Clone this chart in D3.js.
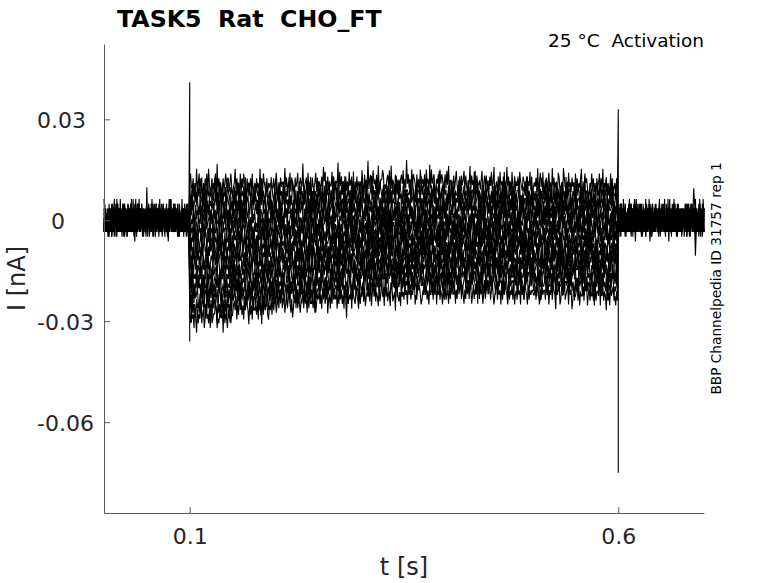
<!DOCTYPE html>
<html>
<head>
<meta charset="utf-8">
<script src="https://cdn.jsdelivr.net/npm/d3@7"></script>
<style>
  body { margin: 0; background: #fff; }
  text { font-family: "DejaVu Sans", sans-serif; }
</style>
</head>
<body>
<div id="wrapper"></div>
<script>
// activation protocol: one current trace per voltage step
const stepVoltages = [-80, -70, -60, -50, -40, -30, -20, -10, 0, 10, 20, 30, 40, 50, 60];
const stepStart = 0.1;
const stepEnd = 0.6;
const recordEnd = 0.7;
const sampleStep = 0.001;

// mean current (nA) of each trace, read per 50 ms segment of the step
const segmentTimes = [0.1, 0.15, 0.2, 0.25, 0.3, 0.35, 0.4, 0.45, 0.5, 0.55];
const stepLevels = [
  [-0.0285, -0.0260, -0.0240, -0.0228, -0.0220, -0.0215, -0.0213, -0.0215, -0.0215, -0.0218],
  [-0.0255, -0.0232, -0.0212, -0.0200, -0.0192, -0.0187, -0.0185, -0.0187, -0.0189, -0.0190],
  [-0.0225, -0.0204, -0.0188, -0.0175, -0.0167, -0.0162, -0.0160, -0.0162, -0.0163, -0.0164],
  [-0.0195, -0.0178, -0.0162, -0.0150, -0.0143, -0.0138, -0.0136, -0.0138, -0.0140, -0.0140],
  [-0.0168, -0.0152, -0.0140, -0.0128, -0.0122, -0.0118, -0.0116, -0.0117, -0.0118, -0.0118],
  [-0.0140, -0.0128, -0.0116, -0.0106, -0.0100, -0.0096, -0.0094, -0.0095, -0.0096, -0.0096],
  [-0.0112, -0.0102, -0.0092, -0.0084, -0.0078, -0.0074, -0.0072, -0.0073, -0.0074, -0.0074],
  [-0.0085, -0.0077, -0.0069, -0.0062, -0.0057, -0.0053, -0.0051, -0.0052, -0.0052, -0.0052],
  [-0.0058, -0.0052, -0.0046, -0.0040, -0.0035, -0.0032, -0.0030, -0.0030, -0.0030, -0.0030],
  [-0.0030, -0.0026, -0.0022, -0.0018, -0.0014, -0.0011, -0.0009, -0.0009, -0.0008, -0.0008],
  [-0.0004, -0.0001, 0.0002, 0.0005, 0.0008, 0.0011, 0.0013, 0.0013, 0.0014, 0.0014],
  [0.0024, 0.0026, 0.0028, 0.0031, 0.0033, 0.0035, 0.0036, 0.0036, 0.0036, 0.0036],
  [0.0050, 0.0052, 0.0054, 0.0056, 0.0058, 0.0059, 0.0059, 0.0058, 0.0058, 0.0058],
  [0.0078, 0.0079, 0.0080, 0.0082, 0.0083, 0.0083, 0.0082, 0.0081, 0.0080, 0.0080],
  [0.0104, 0.0104, 0.0106, 0.0109, 0.0114, 0.0116, 0.0112, 0.0109, 0.0106, 0.0104],
];

// recording jitter, one digit per sample (4.5 = no deviation), in steps of noiseUnit nA
const noiseUnit = 0.0014;
const noiseDigits =
  "54463574253645538462547365416457236549345627451364" +
  "45736254463857246354472635549274635416352745634253" +
  "63545274163549356247453628345576243564718354264535" +
  "35647253946352746541635274453627451837456325463746" +
  "52463748355246357425136457364254836452736445357246" +
  "46352647358145263745462538463527406354627543654263" +
  "54736245463825746354263574528463542763451864352745" +
  "36452746354682437564235474635264573648254635427363" +
  "45263574462538457364253647385246354729364524635746" +
  "63574245836452736475426354637245364528463754263545";
const noiseStarts = [0, 37, 81, 124, 163, 208, 247, 289, 331, 372, 418, 459, 22, 146, 305];

// capacitive transients at step on/off (nA)
const spikeTrace = 14;
const onsetSpike = [0.041, -0.036];
const offsetSpike = [0.033, -0.075];
// isolated outliers: [trace, t, I]
const glitches = [[4, 0.05, 0.0098], [9, 0.688, 0.0095], [2, 0.690, -0.0105]];

const xTicks = [0.1, 0.6];
const yTicks = [0.03, 0, -0.03, -0.06];

function drawChart() {
  const dimensions = {
    width: 778,
    height: 583,
    margin: { top: 44, right: 74, bottom: 70, left: 104 },
  };
  dimensions.boundedWidth = dimensions.width - dimensions.margin.left - dimensions.margin.right;
  dimensions.boundedHeight = dimensions.height - dimensions.margin.top - dimensions.margin.bottom;

  const svg = d3.select("#wrapper").append("svg")
    .attr("width", dimensions.width)
    .attr("height", dimensions.height);

  const bounds = svg.append("g")
    .attr("transform", `translate(${dimensions.margin.left},${dimensions.margin.top})`);

  const xScale = d3.scaleLinear().domain([0, recordEnd]).range([0, dimensions.boundedWidth]);
  const yScale = d3.scaleLinear().domain([-0.087, 0.0524]).range([dimensions.boundedHeight, 0]);

  // build the sampled traces
  const nSamples = Math.round(recordEnd / sampleStep) + 1;
  const iStart = Math.round(stepStart / sampleStep);
  const iEnd = Math.round(stepEnd / sampleStep);
  const segLen = Math.round((segmentTimes[1] - segmentTimes[0]) / sampleStep);

  const traces = stepLevels.map((levels, k) => {
    const pts = [];
    for (let i = 0; i < nSamples; i++) {
      const t = i * sampleStep;
      const level = i >= iStart && i < iEnd ? levels[Math.floor((i - iStart) / segLen)] : 0;
      const d = +noiseDigits[(i + noiseStarts[k]) % noiseDigits.length];
      if (k === spikeTrace && i === iStart) {
        onsetSpike.forEach((v) => pts.push([stepStart, v]));
      }
      if (k === spikeTrace && i === iEnd) {
        offsetSpike.forEach((v) => pts.push([stepEnd, v]));
      }
      pts.push([t, level + (d - 4.5) * noiseUnit]);
    }
    return pts;
  });

  glitches.forEach(([k, t, v]) => {
    const p = traces[k].find((q) => Math.abs(q[0] - t) < sampleStep / 2);
    if (p) p[1] = v;
  });

  const lineGenerator = d3.line()
    .x((d) => xScale(d[0]))
    .y((d) => yScale(d[1]));

  bounds.append("g")
    .selectAll("path")
    .data(traces)
    .join("path")
    .attr("d", lineGenerator)
    .attr("fill", "none")
    .attr("stroke", "#000")
    .attr("stroke-width", 1.1);

  // axes, MATLAB style: ticks pointing inward, no box
  const yAxis = bounds.append("g")
    .call(d3.axisLeft(yScale).tickValues(yTicks).tickSizeInner(-6).tickSizeOuter(0)
      .tickFormat((d) => String(d)));

  yAxis.selectAll("text")
    .attr("text-anchor", (d) => (d === 0 ? "middle" : "start"))
    .attr("x", (d) => (d === 0 ? -46 : -67))
    .attr("dy", "0.36em");

  const xAxis = bounds.append("g")
    .attr("transform", `translate(0,${dimensions.boundedHeight})`)
    .call(d3.axisBottom(xScale).tickValues(xTicks).tickSizeInner(-6).tickSizeOuter(0)
      .tickFormat((d) => String(d)).tickPadding(15));

  [yAxis, xAxis].forEach((ax) => {
    ax.select(".domain").attr("stroke", "#5a5a5a");
    ax.selectAll(".tick line").attr("stroke", "#5a5a5a");
    ax.selectAll("text")
      .attr("fill", "#262626")
      .style("font-size", "22px")
      .style("font-family", "'DejaVu Sans', sans-serif");
  });

  // labels
  svg.append("text")
    .attr("x", dimensions.margin.left + dimensions.boundedWidth / 2)
    .attr("y", 575)
    .attr("text-anchor", "middle")
    .attr("fill", "#262626")
    .style("font-size", "24px")
    .text("t [s]");

  svg.append("text")
    .attr("transform", `translate(25,${dimensions.margin.top + dimensions.boundedHeight / 2}) rotate(-90)`)
    .attr("text-anchor", "middle")
    .attr("fill", "#262626")
    .style("font-size", "24px")
    .text("I [nA]");

  svg.append("text")
    .attr("x", 117)
    .attr("y", 27)
    .attr("fill", "#000")
    .style("font-size", "23.7px")
    .style("font-weight", "bold")
    .style("white-space", "pre")
    .text("TASK5  Rat  CHO_FT");

  svg.append("text")
    .attr("x", dimensions.margin.left + dimensions.boundedWidth)
    .attr("y", 47)
    .attr("text-anchor", "end")
    .attr("fill", "#000")
    .style("font-size", "18.5px")
    .style("white-space", "pre")
    .text("25 °C  Activation");

  svg.append("text")
    .attr("transform", `translate(721,${dimensions.margin.top + dimensions.boundedHeight / 2}) rotate(-90)`)
    .attr("text-anchor", "middle")
    .attr("fill", "#000")
    .style("font-size", "13.7px")
    .text("BBP Channelpedia ID 31757 rep 1");
}

drawChart();
</script>
</body>
</html>
